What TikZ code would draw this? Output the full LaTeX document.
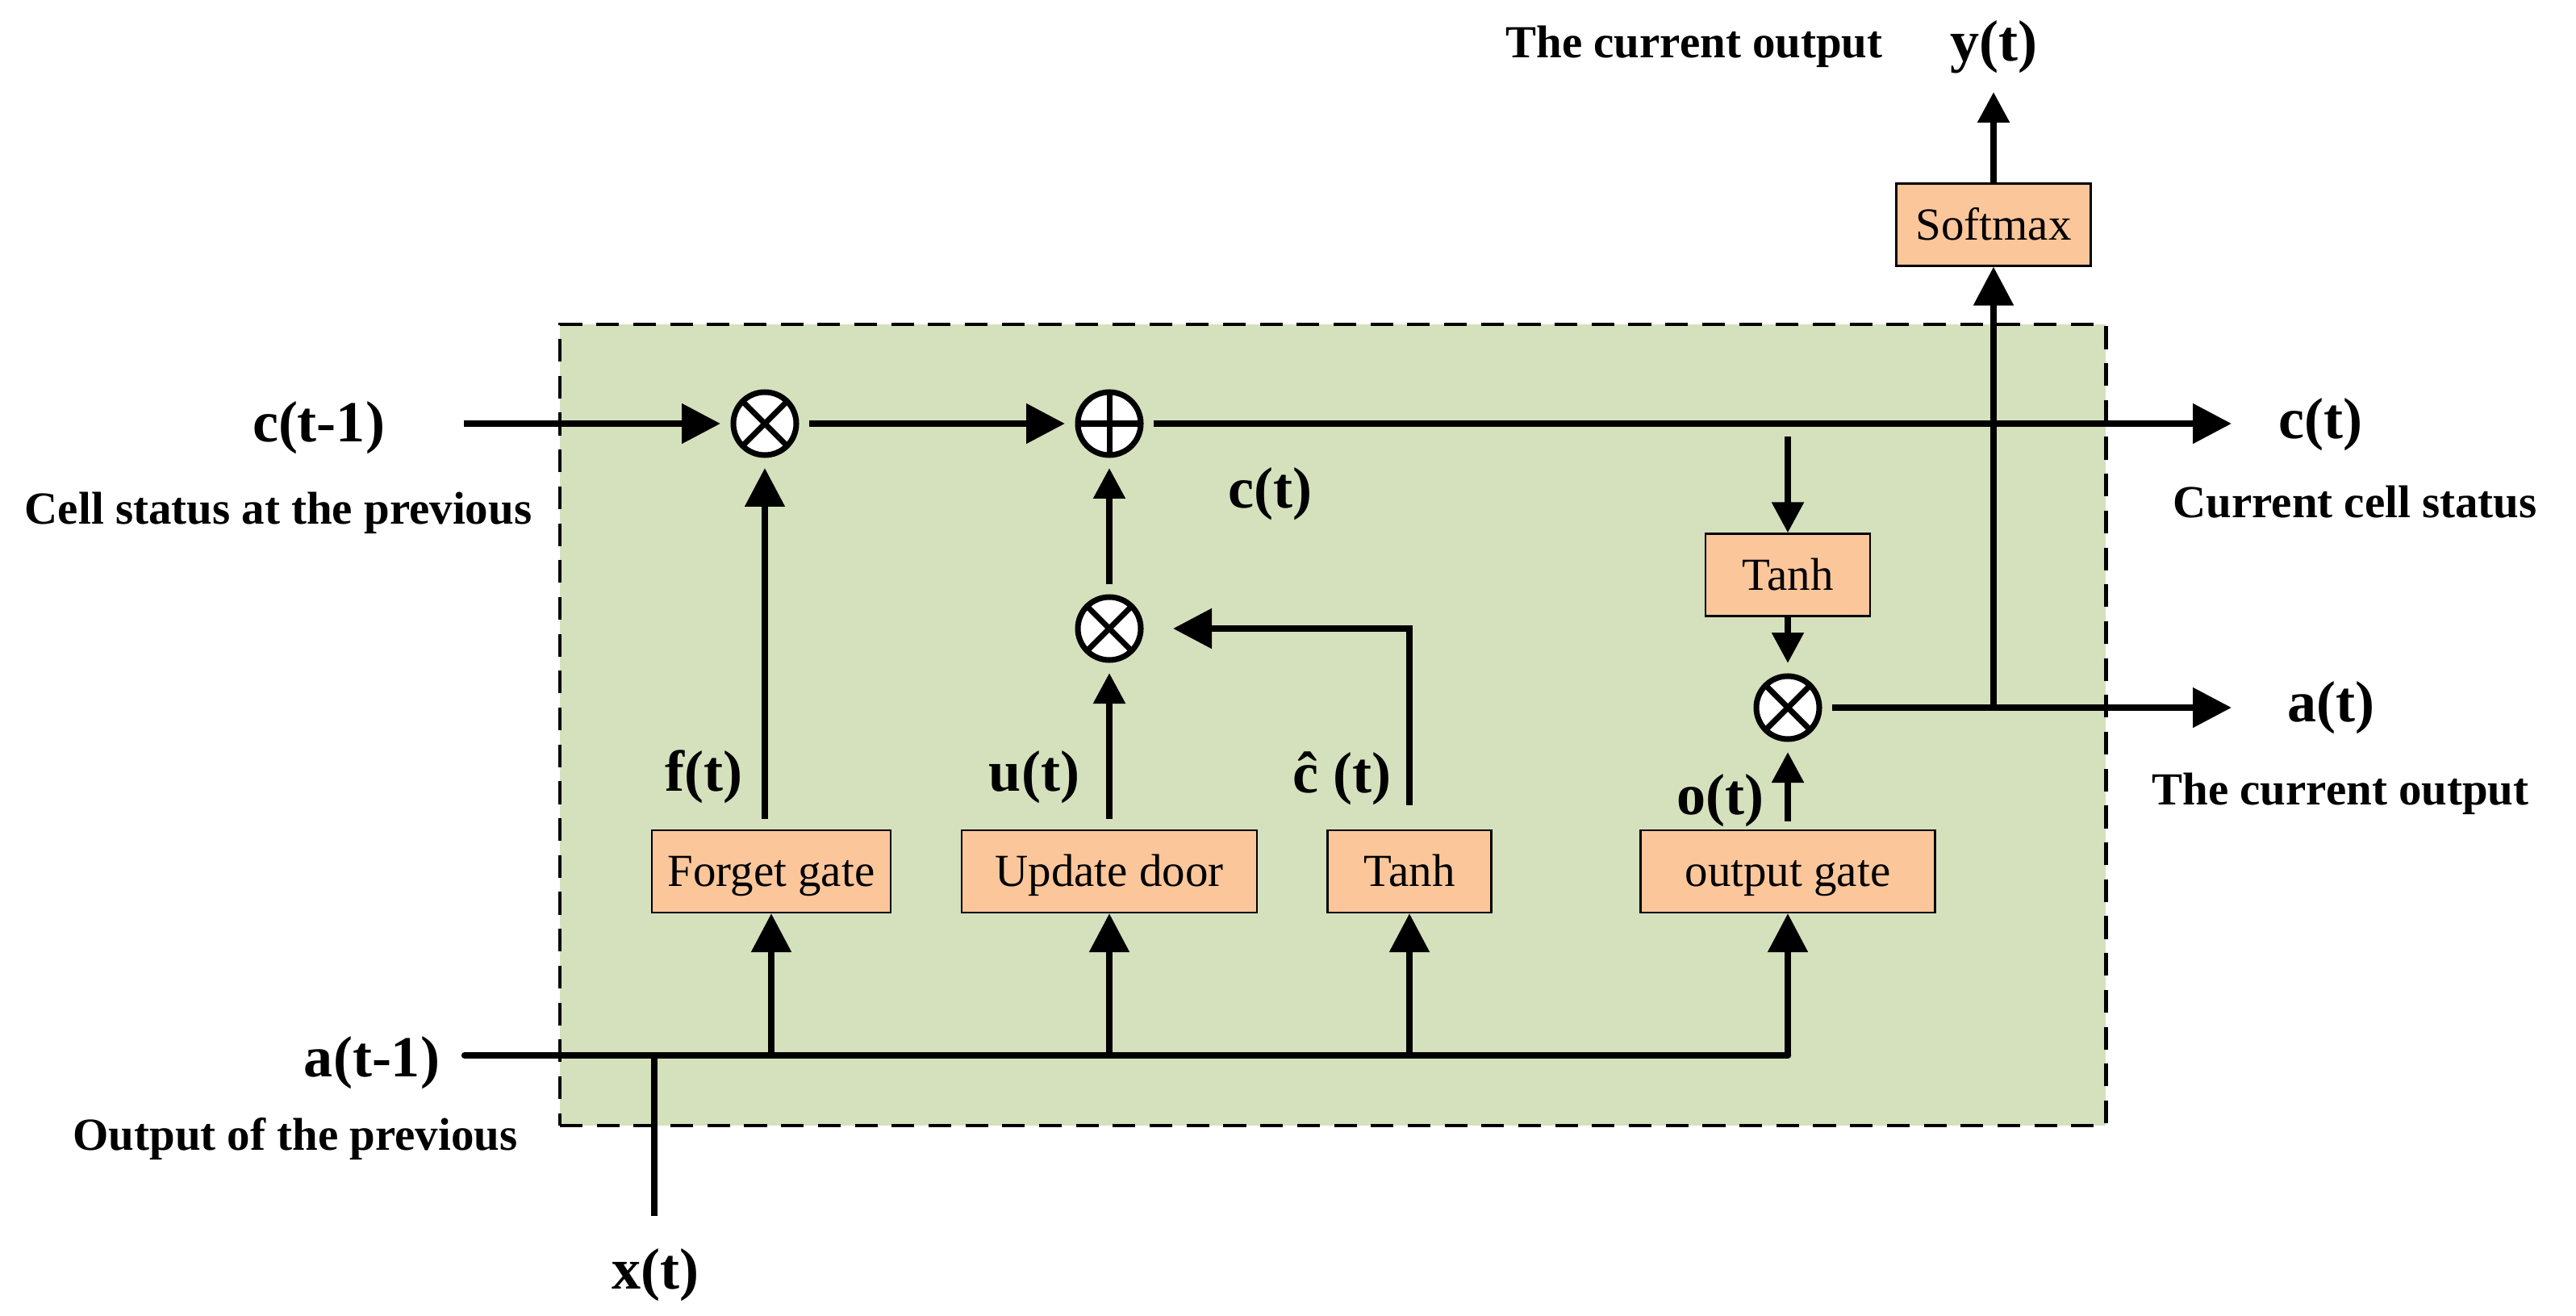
\documentclass[tikz,border=0pt]{standalone}
\usepackage{fontspec}
\setmainfont{Liberation Serif}
\usetikzlibrary{arrows.meta}

\definecolor{cellgreen}{RGB}{213,225,189}
\definecolor{gatepeach}{RGB}{251,198,154}

\tikzset{
  gatebox/.style={draw, line width=0.6pt, fill=gatepeach, minimum height=1.02cm,
    inner sep=0pt, text height=10.7pt, text depth=0pt,
    font=\fontsize{16.2}{19}\selectfont},
  opnode/.style={circle, draw, line width=2pt, fill=white, minimum size=0.78cm,
    inner sep=0pt, outer sep=0.16cm},
  mulop/.style={opnode, path picture={
    \draw[line width=2pt] (path picture bounding box.south west) -- (path picture bounding box.north east)
      (path picture bounding box.north west) -- (path picture bounding box.south east);}},
  addop/.style={opnode, path picture={
    \draw[line width=2pt] (path picture bounding box.north) -- (path picture bounding box.south)
      (path picture bounding box.west) -- (path picture bounding box.east);}},
  wire/.style={line width=2.4pt},
  flow/.style={wire, -{Triangle[length=0.48cm, width=0.48cm]}},
  flowsmall/.style={wire, -{Triangle[length=0.38cm, width=0.38cm]}},
  sig/.style={font=\fontsize{20.5}{24}\selectfont\bfseries},
  note/.style={font=\fontsize{16.2}{19}\selectfont\bfseries},
}

\begin{document}
\begin{tikzpicture}
    \useasboundingbox (0,0) rectangle (31.93,16.30);

    % LSTM cell (dashed frame)
    \node[draw, fill=cellgreen, line width=1.4pt, dash pattern=on 8pt off 5pt,
      minimum width=19.16cm, minimum height=9.93cm] (cell) at (16.52,7.315) {};

    % Point-wise operations
    \node[mulop] (m1) at (9.48,11.05) {};
    \node[addop] (plus) at (13.75,11.05) {};
    \node[mulop] (m2) at (13.75,8.51) {};
    \node[mulop] (m3) at (22.16,7.53) {};

    % Gates
    \node[gatebox, minimum width=2.96cm] (fg) at (9.56,5.50) {Forget gate};
    \node[gatebox, minimum width=3.66cm] (ud) at (13.75,5.50) {Update door};
    \node[gatebox, minimum width=2.03cm] (th1) at (17.47,5.50) {Tanh};
    \node[gatebox, minimum width=3.65cm] (og) at (22.16,5.50) {output gate};
    \node[gatebox, minimum width=2.04cm] (th2) at (22.16,9.175) {Tanh};
    \node[gatebox, minimum width=2.41cm] (sm) at (24.71,13.515) {Softmax};

    % Free ends
    \coordinate (cin) at (5.75,11.05);
    \coordinate (cout) at (27.66,11.05);
    \coordinate (ain) at (5.76,3.22);
    \coordinate (aout) at (27.66,7.53);
    \coordinate (xin) at (8.11,1.23);
    \coordinate (yout) at (24.71,15.16);

    % Cell state path
    \draw[flow] (cin) -- (m1);
    \draw[flow] (m1) -- (plus);
    \draw[flow] (plus) -- (cout);
    \draw[flow, shorten <=0.13cm] (fg.north -| m1) -- (m1);
    \draw[flowsmall, shorten <=0.13cm] (ud) -- (m2);
    \draw[flowsmall] (m2) -- (plus);
    \draw[flow, shorten <=0.3cm, shorten >=0.24cm] (th1.north) |- (m2);

    % Output path
    \draw[flowsmall, shorten <=0.16cm] (th2.north |- cout) -- (th2);
    \draw[flowsmall] (th2) -- (m3);
    \draw[flowsmall, shorten <=0.1cm] (og) -- (m3);
    \draw[flow] (m3) -- (aout);
    \draw[flow] (sm.south |- aout) -- (sm);
    \draw[flowsmall] (sm) -- (yout);

    % Inputs a(t-1) and x(t)
    \draw[wire, line cap=round] (ain) -- (og.south |- ain);
    \draw[wire] (xin) -- (xin |- ain);
    \foreach \g in {fg,ud,th1,og}
    \draw[flow] (\g.south |- ain) -- (\g.south);

    % Signal labels
    \node[sig] (lcprev) at (3.95,11.00) {c(t-1)};
    \node[sig] (laprev) at (4.61,3.13) {a(t-1)};
    \node[sig] (lx) at (8.12,0.50) {x(t)};
    \node[sig] (lf) at (8.72,6.67) {f(t)};
    \node[sig] (lu) at (12.82,6.67) {u(t)};
    \node[sig] (lchat) at (16.63,6.65) {ĉ (t)};
    \node[sig] (lo) at (21.32,6.38) {o(t)};
    \node[sig] (lcmid) at (15.74,10.18) {c(t)};
    \node[sig] (lcout) at (28.76,11.04) {c(t)};
    \node[sig] (laout) at (28.89,7.53) {a(t)};
    \node[sig] (ly) at (24.71,15.72) {y(t)};

    % Notes
    \node[note] (ncprev) at (3.45,9.94) {Cell status at the previous};
    \node[note] (naprev) at (3.66,2.18) {Output of the previous};
    \node[note] (ncout) at (29.19,10.08) {Current cell status};
    \node[note] (naout) at (29.01,6.46) {The current output};
    \node[note] (ny) at (21.00,15.72) {The current output};
\end{tikzpicture}
\end{document}
